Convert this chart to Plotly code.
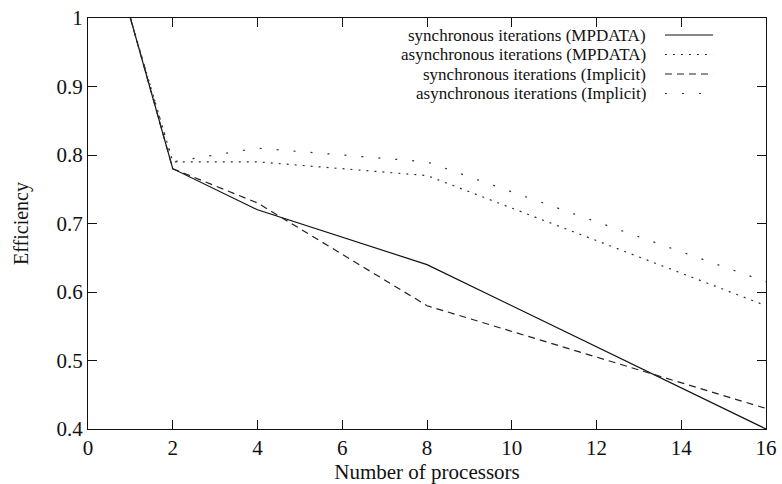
import plotly.graph_objects as go

# Parallel efficiency versus processor count
processors = [1, 2, 4, 8, 16]
sync_mpdata = [1.0, 0.78, 0.72, 0.64, 0.40]
async_mpdata = [1.0, 0.79, 0.79, 0.77, 0.58]
sync_implicit = [1.0, 0.78, 0.73, 0.58, 0.43]
async_implicit = [1.0, 0.79, 0.81, 0.79, 0.615]

series_names = [
    "synchronous iterations (MPDATA)",
    "asynchronous iterations (MPDATA)",
    "synchronous iterations (Implicit)",
    "asynchronous iterations (Implicit)",
]
series_values = [sync_mpdata, async_mpdata, sync_implicit, async_implicit]
series_dash = ["solid", "2px,6px", "7px,5px", "2px,15px"]
series_color = ["#111111", "#333333", "#222222", "#333333"]

x_ticks = [0, 2, 4, 6, 8, 10, 12, 14, 16]
y_ticks = [0.4, 0.5, 0.6, 0.7, 0.8, 0.9, 1.0]
y_tick_text = ["0.4", "0.5", "0.6", "0.7", "0.8", "0.9", "1"]

FONT = "Liberation Serif, Times New Roman, serif"

fig = go.Figure()
for name, vals, dash, col in zip(series_names, series_values, series_dash, series_color):
    fig.add_trace(go.Scatter(
        x=processors, y=vals, mode="lines", name=name,
        line=dict(color=col, width=1.2, dash=dash),
        showlegend=False,
    ))

# gnuplot-style key: right-aligned text with the line sample to its right
row_y = [0.9586, 0.9112, 0.8637, 0.8163]
for name, dash, col, yy in zip(series_names, series_dash, series_color, row_y):
    fig.add_annotation(
        xref="paper", yref="paper", x=0.825, y=yy, xanchor="right", yanchor="middle",
        text=name, showarrow=False, borderpad=0,
        font=dict(family=FONT, size=17, color="#111"),
    )
    fig.add_shape(
        type="line", xref="paper", yref="paper", x0=0.851, x1=0.922, y0=yy, y1=yy,
        line=dict(color=col, width=1.2, dash=dash),
    )

axis_common = dict(
    showgrid=False, zeroline=False, showline=True, linecolor="#111", linewidth=1.2,
    mirror="ticks", ticks="inside", ticklen=9, tickwidth=1, tickcolor="#111",
    tickfont=dict(family=FONT, size=21, color="#111"), automargin=False,
)

fig.update_layout(
    width=782, height=484,
    margin=dict(l=88, r=16, t=18, b=55),
    paper_bgcolor="white", plot_bgcolor="white",
    font=dict(family=FONT, color="#111"),
    xaxis=dict(
        range=[0, 16], tickvals=x_ticks,
        title=dict(text="Number of processors", font=dict(family=FONT, size=21), standoff=2),
        **axis_common,
    ),
    yaxis=dict(
        range=[0.4, 1.0], tickvals=y_ticks, ticktext=y_tick_text,
        title=dict(text="Efficiency", font=dict(family=FONT, size=20), standoff=22),
        **axis_common,
    ),
)

fig.write_html("out.html")
